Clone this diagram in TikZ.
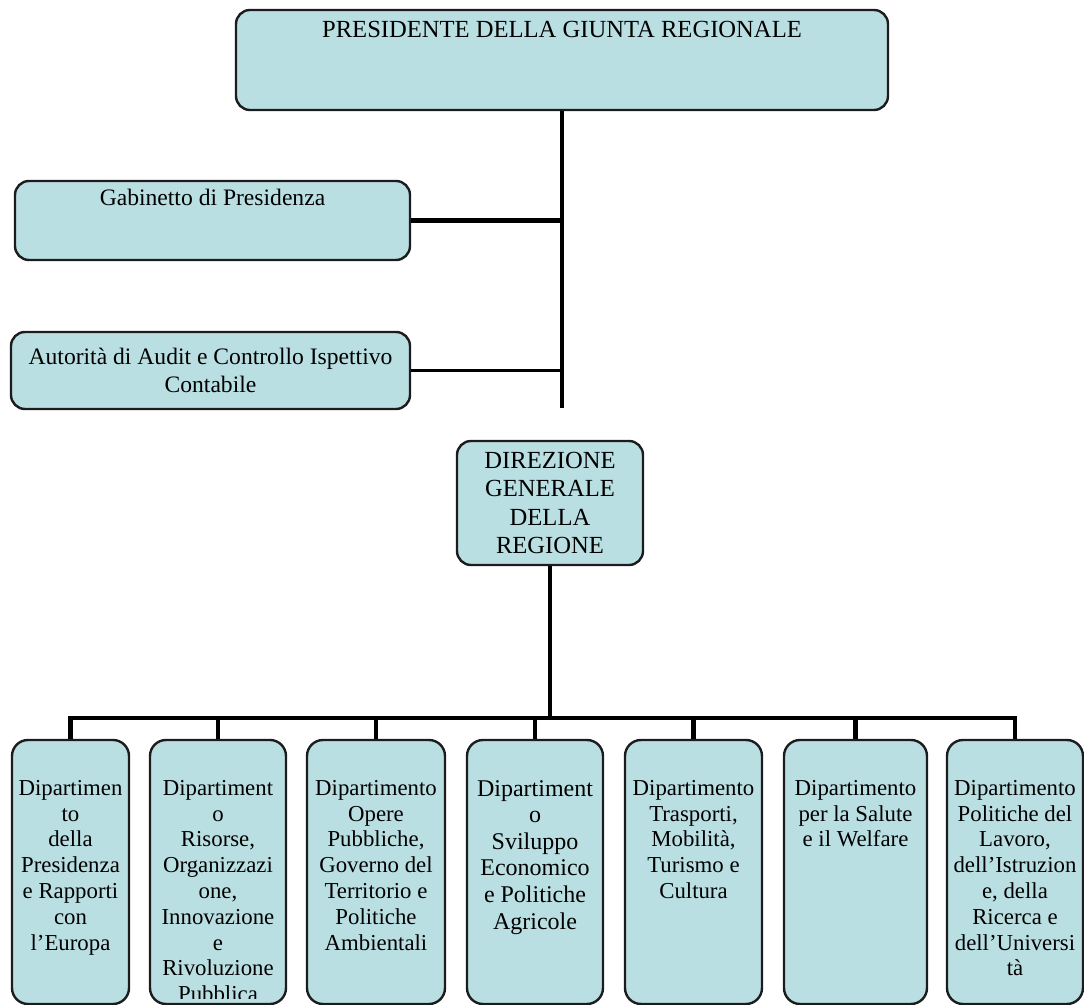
\documentclass[tikz,border=0pt]{standalone}
\usepackage{fontspec}
\setmainfont{Liberation Serif}
\usetikzlibrary{positioning}
\definecolor{orgfill}{HTML}{BADFE3}
\definecolor{orgline}{HTML}{1C1C1C}

\begin{document}
\begin{tikzpicture}[
  x=0.5pt, y=-0.5pt,
  office/.style={draw=orgline, line width=1.2pt, fill=orgfill,
                 rounded corners=7pt, inner sep=0pt},
  dept/.style={office, minimum height=132pt, rounded corners=8pt},
  office text/.style={align=center, inner sep=0pt,
                      font=\fontsize{11.8}{14}\selectfont},
  caps text/.style={office text, font=\fontsize{12.3}{14.2}\selectfont},
  dept text/.style={office text, font=\fontsize{11.4}{12.9}\selectfont},
  dept text big/.style={office text, font=\fontsize{12}{13.3}\selectfont},
  link/.style={draw=black, line width=2.3pt},
]
  \useasboundingbox (0,0) rectangle (1084,1005);

  % #1 name, #2 x, #3 width, #4 text style, #5 text
  \newcommand{\deptbox}[5]{%
    \node[dept, minimum width=#3*0.5pt] (#1) at (#2,872) {};
    \begin{scope}
      % text that runs past the box is cut at its lower edge
      \clip (#1.north west) rectangle ([yshift=3.5pt]#1.south east);
      \node[#4, below=20.5pt of #1.north] (#1-text) {#5};
    \end{scope}
  }

  % Upper offices.
  \node[office, minimum width=326pt, minimum height=50pt] (pres) at (562,60) {};
  \node[caps text, below=6pt of pres.north] (pres-text) {PRESIDENTE DELLA GIUNTA REGIONALE};
  \node[office, minimum width=197.5pt, minimum height=39.5pt] (gab) at (212.5,220.5) {};
  \node[office text, below=4.5pt of gab.north] (gab-text) {Gabinetto di Presidenza};
  \node[office, office text, minimum width=199.5pt, minimum height=38.5pt] (aud) at (210.5,370.5)
    {Autorità di Audit e Controllo Ispettivo\\Contabile};
  \node[office, caps text, minimum width=93pt, minimum height=62pt] (dir) at (550,503)
    {DIREZIONE\\GENERALE\\DELLA\\REGIONE};

  % Seven departments.
  \deptbox{d1}{70.5}{117}{dept text}{Dipartimen\\to\\della\\Presidenza\\e Rapporti\\con\\l’Europa}
  \deptbox{d2}{218}{136}{dept text}{Dipartiment\\o\\Risorse,\\Organizzazi\\one,\\Innovazione\\e\\Rivoluzione\\Pubblica}
  \deptbox{d3}{376}{138}{dept text}{Dipartimento\\Opere\\Pubbliche,\\Governo del\\Territorio e\\Politiche\\Ambientali}
  \deptbox{d4}{535}{136}{dept text big}{Dipartiment\\o\\Sviluppo\\Economico\\e Politiche\\Agricole}
  \deptbox{d5}{693.5}{137}{dept text}{Dipartimento\\Trasporti,\\Mobilità,\\Turismo e\\Cultura}
  \deptbox{d6}{855.5}{143}{dept text}{Dipartimento\\per la Salute\\e il Welfare}
  \deptbox{d7}{1015}{136}{dept text}{Dipartimento\\Politiche del\\Lavoro,\\dell’Istruzion\\e, della\\Ricerca e\\dell’Universi\\tà}

  % Connectors.
  \coordinate (spine-end) at (562,408);
  \coordinate (bus) at (550,718);
  \draw[link] (pres.south) -- (spine-end);
  \draw[link] (gab.east) -- (gab.east -| pres.south);
  \draw[link, line width=1.6pt] (aud.east) -- (aud.east -| pres.south);
  \draw[link] (dir.south) -- (bus);
  \draw[link] (d1.north) |- (bus) -| (d7.north);
  \foreach \dept in {d2,d3,d4,d5,d6} {
    \draw[link] (\dept.north) -- (\dept.north |- bus);
  }
\end{tikzpicture}
\end{document}
